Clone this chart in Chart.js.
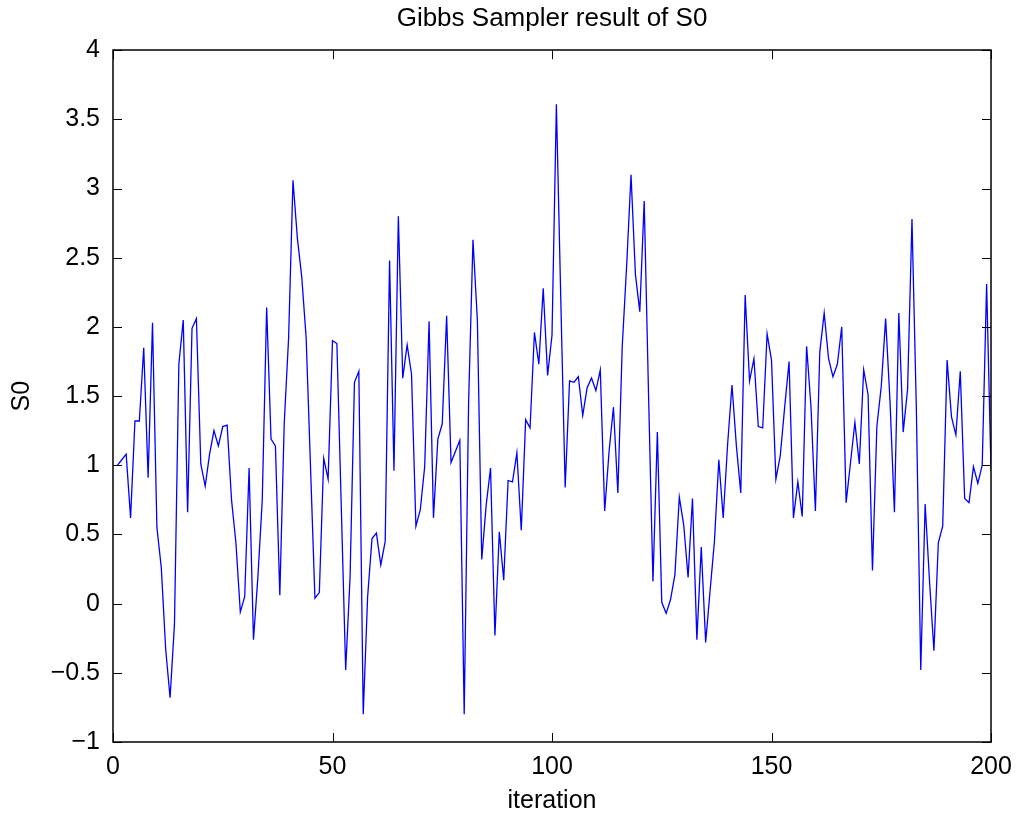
<!DOCTYPE html>
<html lang="en">
<head>
    <meta charset="UTF-8">
    <title>Gibbs Sampler result of S0</title>
    <script src="https://cdn.jsdelivr.net/npm/chart.js"></script>
    <style>
        body {
            margin: 0;
            background-color: #fff;
        }
        canvas {
            display: block;
        }
    </style>
</head>
<body>
    <canvas id="gibbsChart" width="1018" height="816"></canvas>
    <script>
        const s0Values = [
            1.00, 1.04, 1.08, 0.62, 1.32, 1.32, 1.85, 0.91, 2.03, 0.55,
            0.26, -0.33, -0.68, -0.15, 1.73, 2.05, 0.66, 1.99, 2.06, 1.01,
            0.85, 1.08, 1.25, 1.14, 1.28, 1.29, 0.75, 0.44, -0.06, 0.05,
            0.98, -0.26, 0.19, 0.75, 2.14, 1.19, 1.14, 0.06, 1.30, 1.92,
            3.06, 2.64, 2.36, 1.92, 0.98, 0.04, 0.08, 1.05, 0.90, 1.90,
            1.88, 0.70, -0.48, 0.19, 1.60, 1.68, -0.80, 0.05, 0.47, 0.51,
            0.28, 0.45, 2.48, 0.96, 2.80, 1.63, 1.87, 1.66, 0.56, 0.68,
            0.99, 2.04, 0.62, 1.19, 1.30, 2.08, 1.02, 1.10, 1.18, -0.80,
            1.45, 2.63, 2.05, 0.32, 0.71, 0.98, -0.23, 0.52, 0.17, 0.89,
            0.88, 1.09, 0.53, 1.33, 1.27, 1.96, 1.73, 2.28, 1.65, 1.94,
            3.61, 2.20, 0.84, 1.61, 1.60, 1.64, 1.36, 1.56, 1.63, 1.54,
            1.69, 0.67, 1.10, 1.42, 0.80, 1.86, 2.44, 3.10, 2.38, 2.11,
            2.91, 1.50, 0.16, 1.24, 0.01, -0.07, 0.03, 0.21, 0.77, 0.57,
            0.19, 0.76, -0.26, 0.41, -0.28, 0.09, 0.45, 1.04, 0.62, 1.15,
            1.58, 1.14, 0.80, 2.23, 1.61, 1.77, 1.28, 1.27, 1.95, 1.76,
            0.90, 1.07, 1.42, 1.75, 0.62, 0.88, 0.63, 1.86, 1.42, 0.67,
            1.82, 2.10, 1.77, 1.64, 1.73, 2.00, 0.73, 1.02, 1.31, 1.01,
            1.69, 1.51, 0.24, 1.28, 1.57, 2.06, 1.46, 0.66, 2.10, 1.24,
            1.55, 2.78, 1.40, -0.48, 0.72, 0.16, -0.34, 0.44, 0.56, 1.76,
            1.35, 1.22, 1.68, 0.76, 0.73, 0.99, 0.87, 1.00, 2.31, 0.97
        ];
        const iterations = s0Values.map((v, i) => i + 1);
        const xTicks = [0, 50, 100, 150, 200];
        const yTicks = [-1, -0.5, 0, 0.5, 1, 1.5, 2, 2.5, 3, 3.5, 4];

        const font = "'Liberation Sans', Arial, Helvetica, sans-serif";

        // matlab style box with inward ticks on all four sides
        const boxTicks = {
            id: 'boxTicks',
            afterDatasetsDraw(chart) {
                const { ctx, chartArea: a, scales: { x, y } } = chart;
                const len = 9;
                ctx.save();
                ctx.strokeStyle = '#000';
                ctx.lineWidth = 1;
                ctx.beginPath();
                xTicks.forEach(t => {
                    const px = Math.round(x.getPixelForValue(t)) + 0.5;
                    ctx.moveTo(px, a.bottom); ctx.lineTo(px, a.bottom - len);
                    ctx.moveTo(px, a.top); ctx.lineTo(px, a.top + len);
                });
                yTicks.forEach(t => {
                    const py = Math.round(y.getPixelForValue(t)) + 0.5;
                    ctx.moveTo(a.left, py); ctx.lineTo(a.left + len, py);
                    ctx.moveTo(a.right, py); ctx.lineTo(a.right - len, py);
                });
                ctx.stroke();
                ctx.lineWidth = 1.5;
                ctx.strokeRect(Math.round(a.left), Math.round(a.top),
                    Math.round(a.right - a.left), Math.round(a.bottom - a.top));
                ctx.restore();
            }
        };

        const ctx = document.getElementById('gibbsChart').getContext('2d');
        new Chart(ctx, {
            type: 'line',
            data: {
                labels: iterations,
                datasets: [{
                    data: s0Values,
                    borderColor: '#0000ff',
                    borderWidth: 1.3,
                    pointRadius: 0,
                    tension: 0,
                    fill: false
                }]
            },
            options: {
                responsive: false,
                animation: false,
                layout: { padding: { right: 27 } },
                plugins: {
                    legend: { display: false },
                    tooltip: { enabled: false },
                    title: {
                        display: true,
                        fullSize: false,
                        text: 'Gibbs Sampler result of S0',
                        color: '#000',
                        font: { family: font, size: 26, weight: 'normal' },
                        padding: { top: 3, bottom: 16 }
                    }
                },
                scales: {
                    x: {
                        type: 'linear',
                        min: 0,
                        max: 200,
                        afterFit: s => {
                            s.height = 74;
                            s.paddingLeft = 0;
                            s.paddingRight = 0;
                        },
                        afterBuildTicks: s => { s.ticks = xTicks.map(v => ({ value: v })); },
                        grid: { display: false, drawTicks: false },
                        border: { display: false },
                        ticks: {
                            color: '#000',
                            padding: 10,
                            maxRotation: 0,
                            font: { family: font, size: 25 }
                        },
                        title: {
                            display: true,
                            text: 'iteration',
                            color: '#000',
                            font: { family: font, size: 25 },
                            padding: { top: 0, bottom: 0 }
                        }
                    },
                    y: {
                        min: -1,
                        max: 4,
                        afterFit: s => { s.width = 113; },
                        afterBuildTicks: s => { s.ticks = yTicks.map(v => ({ value: v })); },
                        grid: { display: false, drawTicks: false },
                        border: { display: false },
                        ticks: {
                            color: '#000',
                            padding: 13,
                            font: { family: font, size: 25 },
                            callback: v => String(v).replace('-', '\u2212')
                        },
                        title: {
                            display: true,
                            text: 'S0',
                            color: '#000',
                            font: { family: font, size: 25 },
                            padding: { top: 7, bottom: 0 }
                        }
                    }
                }
            },
            plugins: [boxTicks]
        });
    </script>
</body>
</html>
